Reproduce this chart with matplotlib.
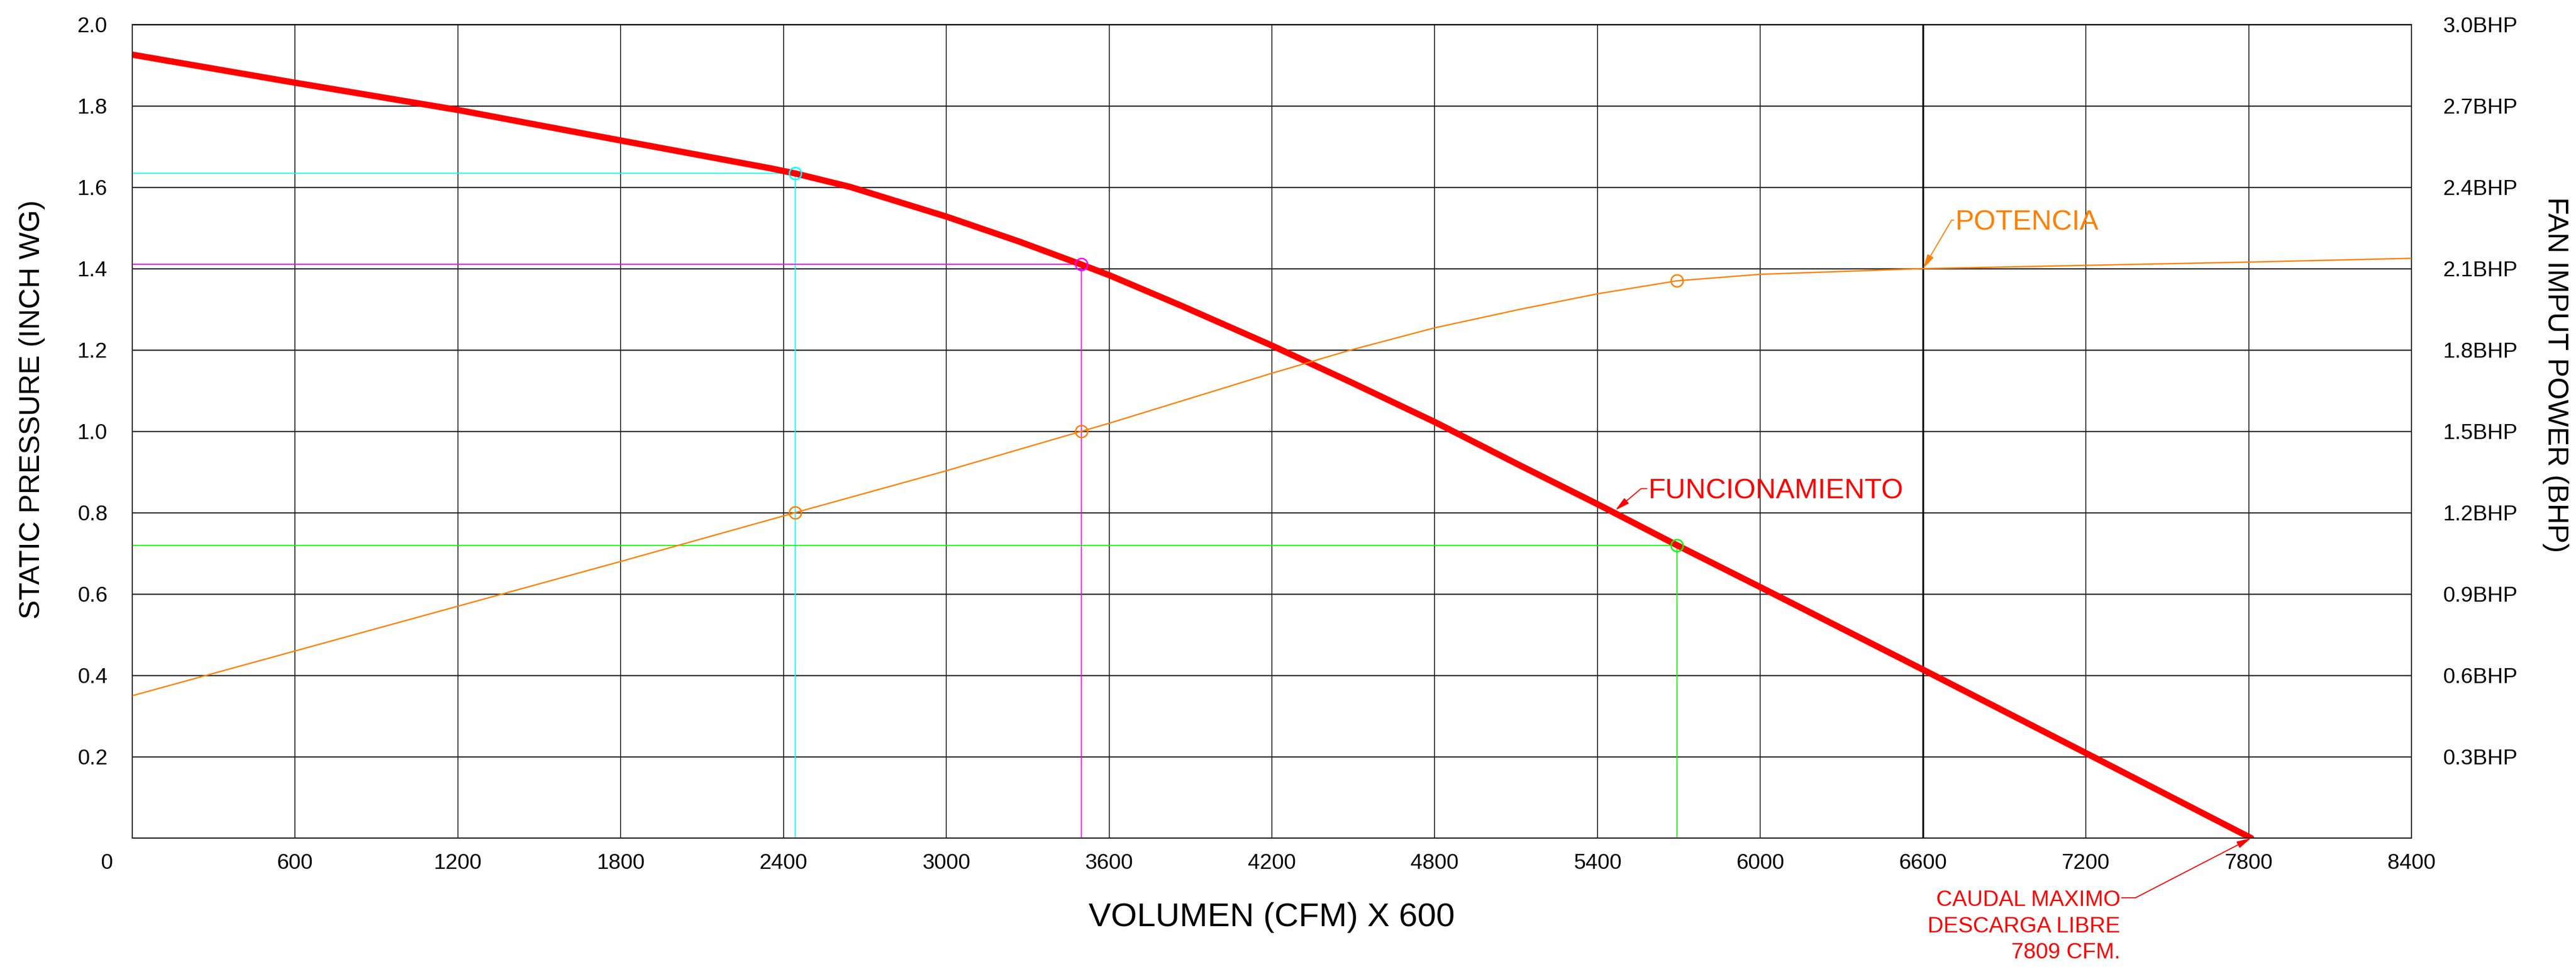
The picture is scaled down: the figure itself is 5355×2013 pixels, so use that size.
import matplotlib.pyplot as plt
import numpy as np

plt.rcParams['font.family'] = ['Liberation Sans', 'DejaVu Sans']

# curva de funcionamiento: presion estatica (inch WG) vs caudal (CFM)
caudal_sp = [0, 600, 1200, 1800, 2349, 2443, 2645, 3000, 3271, 3498, 3600, 3862, 4193,
             4489, 4800, 5115, 5400, 5693, 6000, 6600, 7200, 7809]
presion = [1.926, 1.857, 1.790, 1.715, 1.647, 1.634, 1.601, 1.528, 1.466, 1.410, 1.384, 1.310, 1.213,
           1.1215, 1.023, 0.916, 0.821, 0.720, 0.617, 0.414, 0.209, 0.0]

# curva de potencia (BHP)
caudal_bhp = [0, 600, 1200, 1800, 2443, 3000, 3271, 3498, 3600, 4193, 4489, 4800, 5115,
              5400, 5693, 6000, 6600, 7200, 7800, 8400]
potencia = [0.525, 0.69, 0.855, 1.02, 1.20, 1.3545, 1.434, 1.50, 1.5296, 1.712, 1.7994, 1.8816, 1.950,
            2.007, 2.055, 2.079, 2.10, 2.112, 2.124, 2.138]

# puntos de trabajo marcados
op_caudal = [2443, 3498, 5693]
op_presion = [1.634, 1.411, 0.720]
op_potencia = [1.20, 1.50, 2.055]
op_colores = ['#00FFFF', '#FF00FF', '#00FF00']

# ejes
x_ticks = [0, 600, 1200, 1800, 2400, 3000, 3600, 4200, 4800, 5400, 6000, 6600, 7200, 7800, 8400]
sp_ticks = [0.2, 0.4, 0.6, 0.8, 1.0, 1.2, 1.4, 1.6, 1.8, 2.0]
bhp_ticks = [0.3, 0.6, 0.9, 1.2, 1.5, 1.8, 2.1, 2.4, 2.7, 3.0]
linea_marcada = 6600
caudal_max = 7809

red = '#FF0000'
orange = '#FF8000'
tick_fs = 32.4

fig = plt.figure(figsize=(53.55, 20.13), dpi=100)
ax = fig.add_axes([0.05135, 0.13512, 0.88478, 0.83954])
ax2 = ax.twinx()

ax.set_xlim(0, 8400)
ax.set_ylim(0, 2.0)
ax2.set_ylim(0, 3.0)

# grid
ax.set_xticks(x_ticks)
ax.set_xticklabels([''] + [str(v) for v in x_ticks[1:]])
ax.set_yticks(sp_ticks)
ax.set_yticklabels([f'{v:.1f}' for v in sp_ticks])
ax2.set_yticks(bhp_ticks)
ax2.set_yticklabels([f'{v:.1f}BHP' for v in bhp_ticks])
ax.grid(True, axis='x', color='black', lw=1.2)
ax.grid(True, axis='y', color='#222222', lw=1.8)
ax.set_axisbelow(True)
ax.axvline(linea_marcada, color='black', lw=2.6, zorder=1)

ax.tick_params(axis='x', length=0, pad=23, labelsize=tick_fs)
ax.tick_params(axis='y', length=0, pad=37, labelsize=tick_fs)
ax2.tick_params(axis='y', length=0, pad=47, labelsize=tick_fs)
for a in (ax, ax2):
    for s in a.spines.values():
        s.set_color('black')
        s.set_linewidth(1.5)

ax.annotate('0', xy=(0, 0), xytext=(-38, -23), textcoords='offset points',
            ha='center', va='top', fontsize=tick_fs, annotation_clip=False)

# lineas de referencia de los puntos de trabajo
for xo, yo, c in zip(op_caudal, op_presion, op_colores):
    ax.plot([0, xo], [yo, yo], color=c, lw=1.6, zorder=2)
    ax.plot([xo, xo], [0, yo], color=c, lw=1.6, zorder=2)

# curva de funcionamiento
ax.plot(caudal_sp, presion, color=red, lw=9.4, solid_capstyle='round',
        solid_joinstyle='round', zorder=3)
for xo, yo, c in zip(op_caudal, op_presion, op_colores):
    ax.plot(xo, yo, 'o', ms=18, mfc='none', mec=c, mew=2.2, zorder=4)

# curva de potencia
ax2.plot(caudal_bhp, potencia, color=orange, lw=2.0, zorder=3)
ax2.plot(op_caudal, op_potencia, 'o', ms=18, mfc='none', mec=orange, mew=2.2, ls='none', zorder=4)

# etiquetas de ejes
ax.set_xlabel('VOLUMEN (CFM) X 600', fontsize=50, va='center')
ax.xaxis.set_label_coords(0.5, -0.0976)
ax.set_ylabel('STATIC PRESSURE (INCH WG)', fontsize=43, va='center')
ax.yaxis.set_label_coords(-0.0439, 0.5266)
ax2.set_ylabel('FAN IMPUT POWER (BHP)', fontsize=43, rotation=270, va='center')
ax2.yaxis.set_label_coords(1.0633, 0.5698)

# anotaciones
arrow = dict(arrowstyle='-|>,head_length=0.9,head_width=0.22', mutation_scale=20,
             lw=1.6, shrinkA=0, shrinkB=0)
ax.annotate('FUNCIONAMIENTO', xy=(5466, 0.806), xytext=(5587, 0.835),
            fontsize=42, color=red, ha='left', va='baseline',
            arrowprops=dict(arrow, color=red, relpos=(0, 0.6),
                            connectionstyle='angle,angleA=0,angleB=40,rad=0'))
ax2.annotate('POTENCIA', xy=(linea_marcada, 2.10), xytext=(6718, 1.495 * 1.5),
             fontsize=42, color=orange, ha='left', va='baseline',
             arrowprops=dict(arrow, color=orange, relpos=(0, 0.6),
                             connectionstyle='angle,angleA=0,angleB=59.5,rad=0'))
ax.annotate(f'CAUDAL MAXIMO\nDESCARGA LIBRE\n{caudal_max} CFM.', xy=(caudal_max, 0.0),
            xytext=(7327, -0.127), fontsize=33, color=red, ha='right', va='top',
            multialignment='right', linespacing=1.3, annotation_clip=False,
            arrowprops=dict(arrow, color=red, relpos=(1, 0.89),
                            connectionstyle='angle,angleA=0,angleB=27.3,rad=0'))

fig.savefig('out.png', dpi=100, facecolor='white')
